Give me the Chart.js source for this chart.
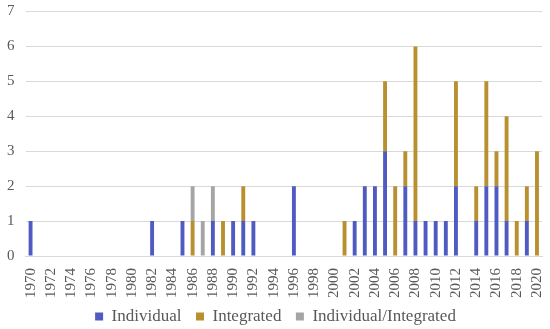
<!DOCTYPE html>
<html lang="en">
<head>
  <meta charset="UTF-8">
  <title>Chart</title>
  <script src="https://cdn.jsdelivr.net/npm/chart.js@4.4.1/dist/chart.umd.min.js"></script>
  <style>
    body { margin: 0; background: #fff; }
    #wrap { width: 550px; height: 329px; }
  </style>
</head>
<body>
  <div id="wrap"><canvas id="chart"></canvas></div>
  <script>
    const years = [];
    for (let y = 1970; y <= 2020; y++) years.push(String(y));

    // counts per year, 1970..2020
    const individual = [
      1,0,0,0,0,0,0,0,0,0,   // 1970-1979
      0,0,1,0,0,1,0,0,1,0,   // 1980-1989
      1,1,1,0,0,0,2,0,0,0,   // 1990-1999
      0,0,1,2,2,3,0,2,1,1,   // 2000-2009
      1,1,2,0,1,2,2,1,0,1,   // 2010-2019
      0                      // 2020
    ];
    const integrated = [
      0,0,0,0,0,0,0,0,0,0,
      0,0,0,0,0,0,1,0,0,1,
      0,1,0,0,0,0,0,0,0,0,
      0,1,0,0,0,2,2,1,5,0,
      0,0,3,0,1,3,1,3,1,1,
      3
    ];
    const both = [
      0,0,0,0,0,0,0,0,0,0,
      0,0,0,0,0,0,1,1,1,0,
      0,0,0,0,0,0,0,0,0,0,
      0,0,0,0,0,0,0,0,0,0,
      0,0,0,0,0,0,0,0,0,0,
      0
    ];

    const serif = "'Liberation Serif', 'Times New Roman', serif";
    const ctx = document.getElementById('chart').getContext('2d');
    new Chart(ctx, {
      type: 'bar',
      data: {
        labels: years,
        datasets: [
          { label: 'Individual', data: individual, backgroundColor: '#4F5AC2' },
          { label: 'Integrated', data: integrated, backgroundColor: '#B8902F' },
          { label: 'Individual/Integrated', data: both, backgroundColor: '#A5A5A5' }
        ]
      },
      options: {
        responsive: true,
        maintainAspectRatio: false,
        animation: false,
        datasets: { bar: { categoryPercentage: 0.8, barPercentage: 0.48 } },
        layout: { padding: { left: 3, right: 2, top: 0, bottom: -6 } },
        plugins: {
          legend: {
            position: 'bottom',
            labels: {
              boxWidth: 8, boxHeight: 8, padding: 6,
              color: '#595959',
              font: { family: serif, size: 17 },
              generateLabels: function (chart) {
                const items = Chart.defaults.plugins.legend.labels.generateLabels(chart);
                // a bit more room between the entries
                items.forEach((it, i) => { if (i < items.length - 1) it.text += '  '; });
                return items;
              }
            }
          },
          tooltip: { enabled: false }
        },
        scales: {
          x: {
            stacked: true,
            grid: { display: false },
            border: { color: '#D9D9D9' },
            ticks: {
              autoSkip: false, minRotation: 90, maxRotation: 90, padding: 4,
              color: '#595959', font: { family: serif, size: 15, lineHeight: 0.6 },
              callback: function (v, i) { return i % 2 === 0 ? years[i] : ''; }
            }
          },
          y: {
            stacked: true,
            min: 0, max: 7,
            grid: { color: '#D9D9D9', tickLength: 7, tickColor: 'rgba(0,0,0,0)' },
            border: { display: false },
            ticks: { stepSize: 1, color: '#595959', font: { family: serif, size: 15, lineHeight: 1 }, padding: 4 }
          }
        }
      }
    });
  </script>
</body>
</html>
